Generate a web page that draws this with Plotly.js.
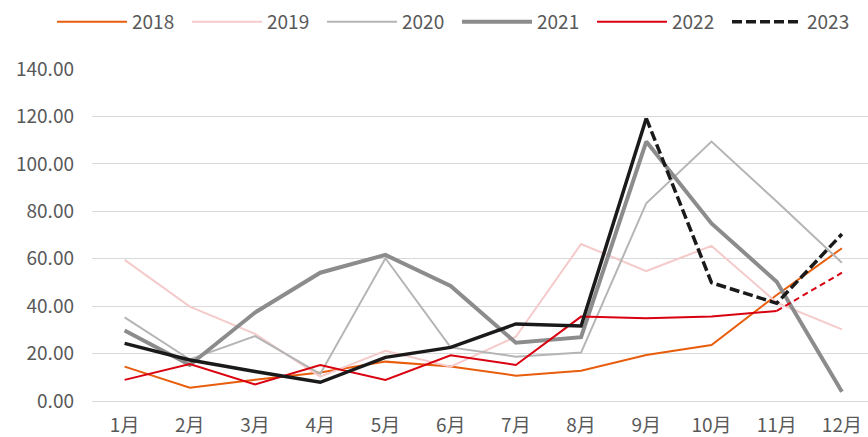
<!DOCTYPE html>
<html>
<head>
<meta charset="utf-8">
<script src="https://cdn.plot.ly/plotly-3.0.1.min.js"></script>
<style>
  html, body { margin: 0; padding: 0; background: #ffffff; }
  #chart { width: 868px; height: 437px; }
</style>
</head>
<body>
<div id="chart"></div>
<script>
// ---- data ----
const months = ['1月','2月','3月','4月','5月','6月','7月','8月','9月','10月','11月','12月'];
const s2018 = [14.5, 5.6, 9.0, 12.0, 16.6, 14.5, 10.7, 12.8, 19.4, 23.6, 44.7, 64.4];
const s2019 = [59.5, 39.8, 28.3, 10.3, 21.2, 14.5, 27.1, 66.2, 54.8, 65.4, 41.5, 30.2];
const s2020 = [35.3, 17.5, 27.4, 11.4, 60.2, 22.6, 18.7, 20.4, 83.4, 109.4, 84.1, 58.3];
const s2021 = [29.7, 15.2, 37.3, 54.1, 61.6, 48.5, 24.6, 26.9, 109.4, 74.9, 50.3, 3.9];
const s2022 = [8.9, 15.6, 7.0, 15.2, 8.9, 19.3, 15.2, 35.6, 34.9, 35.6, 38.0, 54.1];
const s2023 = [24.3, 17.3, 12.4, 7.9, 18.4, 22.6, 32.5, 31.6, 119.2, 49.9, 41.2, 70.4];
const seriesNames = ['2018','2019','2020','2021','2022','2023'];
const yTicks = [0, 20, 40, 60, 80, 100, 120, 140];

// keep only the points between two month indexes (inclusive)
function part(arr, from, to) {
  return arr.map((v, i) => (i >= from && i <= to) ? v : null);
}

const FONT = '"Noto Sans CJK SC", "Noto Sans", sans-serif';
const TXT = '#595959';
const FS = 19;
const W = 868, H = 437;
const M = { l: 92, r: 0, t: 69, b: 36 };
const plotW = W - M.l - M.r, plotH = H - M.t - M.b;

const traces = [
  { name: seriesNames[0], x: months, y: s2018, line: { color: '#E85D0C', width: 2 }, legendrank: 1 },
  { name: seriesNames[1], x: months, y: s2019, line: { color: '#F5CACA', width: 2 }, legendrank: 2 },
  { name: seriesNames[2], x: months, y: s2020, line: { color: '#B5B5B5', width: 2 }, legendrank: 3 },
  { name: seriesNames[3], x: months, y: s2021, line: { color: '#8C8C8C', width: 4 }, legendrank: 4 },
  { name: seriesNames[4], x: months, y: part(s2022, 0, 10), line: { color: '#D9000F', width: 2 }, legendrank: 5 },
  { name: seriesNames[4], x: months, y: part(s2022, 10, 11), line: { color: '#D9000F', width: 2, dash: '6px,4px' }, showlegend: false },
  { name: seriesNames[5], x: months, y: part(s2023, 0, 8), line: { color: '#1A1A1A', width: 3.5 }, showlegend: false },
  { name: seriesNames[5], x: months, y: part(s2023, 8, 11), line: { color: '#1A1A1A', width: 3.5, dash: '10px,4px' }, legendrank: 6 }
].map(t => Object.assign({ type: 'scatter', mode: 'lines', connectgaps: false, hoverinfo: 'skip' }, t));

const layout = {
  width: W, height: H,
  margin: { l: M.l, r: M.r, t: M.t, b: M.b, pad: 0 },
  paper_bgcolor: '#ffffff', plot_bgcolor: '#ffffff',
  font: { family: FONT, size: FS, color: TXT },
  showlegend: true,
  legend: {
    orientation: 'h',
    xref: 'paper', yref: 'paper',
    x: (52 - M.l) / plotW, xanchor: 'left',
    y: 1 + (M.t - 3) / plotH, yanchor: 'top',
    itemwidth: 70,
    entrywidth: 50, entrywidthmode: 'pixels',
    font: { family: FONT, size: FS, color: TXT },
    bgcolor: 'rgba(0,0,0,0)',
    traceorder: 'normal'
  },
  xaxis: {
    type: 'category',
    range: [-0.5, 11.4],
    showgrid: false, zeroline: false, showline: false,
    ticks: '',
    ticklabelstandoff: 11,
    tickfont: { family: FONT, size: FS, color: TXT },
    fixedrange: true
  },
  yaxis: {
    range: [0, 140],
    tickvals: yTicks,
    tickformat: '.2f',
    showgrid: true, gridcolor: '#D9D9D9', gridwidth: 1,
    zeroline: true, zerolinecolor: '#D9D9D9', zerolinewidth: 1,
    showline: false, ticks: '',
    ticklabelstandoff: 17,
    tickfont: { family: FONT, size: FS, color: TXT },
    fixedrange: true
  }
};

Plotly.newPlot('chart', traces, layout, { displayModeBar: false, staticPlot: true });
</script>
</body>
</html>
